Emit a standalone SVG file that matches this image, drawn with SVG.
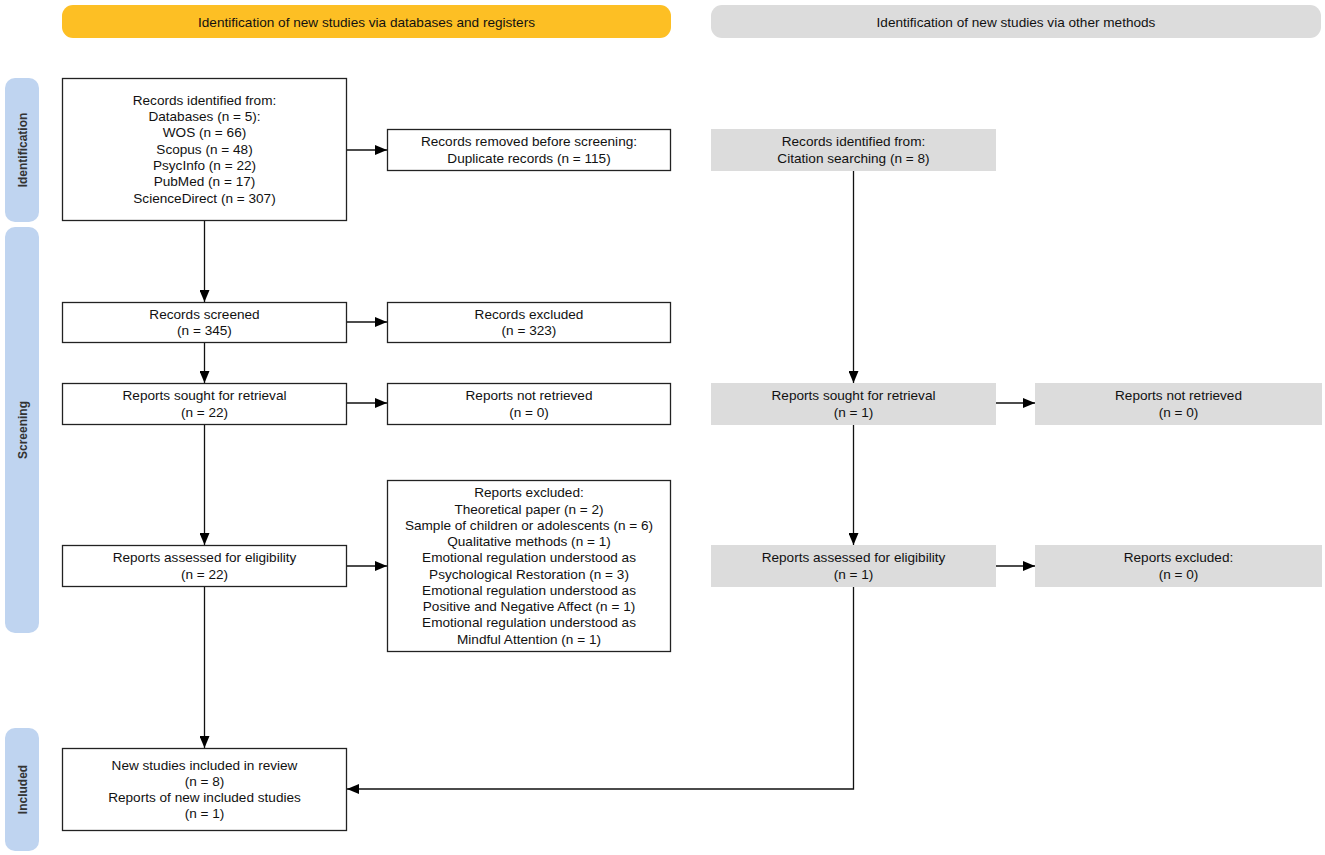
<svg xmlns="http://www.w3.org/2000/svg" width="1325" height="855" viewBox="0 0 1325 855">
<defs>
<marker id="ah" viewBox="0 0 12 10" refX="12" refY="5" markerWidth="12" markerHeight="10" markerUnits="userSpaceOnUse" orient="auto">
<path d="M0,0 L12,5 L0,10 Z" fill="#000"/>
</marker>
<style>
text{font-family:"Liberation Sans",Arial,Helvetica,sans-serif;font-size:13.6px;fill:#111;text-anchor:middle}
.box{fill:#fff;stroke:#222;stroke-width:1.3}
.gbox{fill:#dcdcdc;stroke:none}
.side{fill:#bfd4f0}
.side text{font-weight:bold;font-size:12px;fill:#333}
.conn{fill:none;stroke:#111;stroke-width:1.3}
</style>
</defs>
<rect width="1325" height="855" fill="#fff"/>

<g id="hdr-left"><rect x="62" y="5" width="609" height="33" rx="11" fill="#fdbf24"/><text x="366.5" y="26.5">Identification of new studies via databases and registers</text></g>
<g id="hdr-right"><rect x="711" y="5" width="610" height="33" rx="11" fill="#dcdcdc"/><text x="1016" y="26.5">Identification of new studies via other methods</text></g>

<g id="side-identification" class="side"><rect x="5" y="78" width="34" height="144" rx="10"/><text transform="translate(26.5,150) rotate(-90)">Identification</text></g>
<g id="side-screening" class="side"><rect x="5" y="227" width="34" height="406" rx="10"/><text transform="translate(26.5,430) rotate(-90)">Screening</text></g>
<g id="side-included" class="side"><rect x="5" y="728" width="34" height="123" rx="10"/><text transform="translate(26.5,789.5) rotate(-90)">Included</text></g>

<g id="records-identified"><rect class="box" x="62.5" y="78.5" width="284" height="142"/>
<text x="204.5" y="104.5">Records identified from:</text>
<text x="204.5" y="121">Databases (n = 5):</text>
<text x="204.5" y="137">WOS (n = 66)</text>
<text x="204.5" y="153.5">Scopus (n = 48)</text>
<text x="204.5" y="170">PsycInfo (n = 22)</text>
<text x="204.5" y="186">PubMed (n = 17)</text>
<text x="204.5" y="202.5">ScienceDirect (n = 307)</text></g>

<g id="records-removed"><rect class="box" x="387.5" y="129.5" width="283" height="41"/>
<text x="529" y="146">Records removed before screening:</text>
<text x="529" y="162.5">Duplicate records (n = 115)</text></g>

<g id="citation-identified"><rect class="gbox" x="711" y="129" width="285" height="42"/>
<text x="853.5" y="146">Records identified from:</text>
<text x="853.5" y="162.5">Citation searching (n = 8)</text></g>

<g id="records-screened"><rect class="box" x="62.5" y="302.5" width="284" height="40"/>
<text x="204.5" y="318.5">Records screened</text>
<text x="204.5" y="335">(n = 345)</text></g>

<g id="records-excluded"><rect class="box" x="387.5" y="302.5" width="283" height="40"/>
<text x="529" y="318.5">Records excluded</text>
<text x="529" y="335">(n = 323)</text></g>

<g id="reports-sought"><rect class="box" x="62.5" y="383.5" width="284" height="41"/>
<text x="204.5" y="400">Reports sought for retrieval</text>
<text x="204.5" y="416.5">(n = 22)</text></g>

<g id="reports-not-retrieved"><rect class="box" x="387.5" y="383.5" width="283" height="41"/>
<text x="529" y="400">Reports not retrieved</text>
<text x="529" y="416.5">(n = 0)</text></g>

<g id="reports-sought-other"><rect class="gbox" x="711" y="383" width="285" height="42"/>
<text x="853.5" y="400">Reports sought for retrieval</text>
<text x="853.5" y="416.5">(n = 1)</text></g>

<g id="reports-not-retrieved-other"><rect class="gbox" x="1035" y="383" width="287" height="42"/>
<text x="1178.5" y="400">Reports not retrieved</text>
<text x="1178.5" y="416.5">(n = 0)</text></g>

<g id="reports-assessed"><rect class="box" x="62.5" y="545.5" width="284" height="41"/>
<text x="204.5" y="562">Reports assessed for eligibility</text>
<text x="204.5" y="578.5">(n = 22)</text></g>

<g id="reports-excluded"><rect class="box" x="387.5" y="480.5" width="283" height="171"/>
<text x="529" y="497">Reports excluded:</text>
<text x="529" y="513.5">Theoretical paper (n = 2)</text>
<text x="529" y="529.5">Sample of children or adolescents (n = 6)</text>
<text x="529" y="546">Qualitative methods (n = 1)</text>
<text x="529" y="562">Emotional regulation understood as</text>
<text x="529" y="578.5">Psychological Restoration (n = 3)</text>
<text x="529" y="594.5">Emotional regulation understood as</text>
<text x="529" y="611">Positive and Negative Affect (n = 1)</text>
<text x="529" y="627">Emotional regulation understood as</text>
<text x="529" y="643.5">Mindful Attention (n = 1)</text></g>

<g id="reports-assessed-other"><rect class="gbox" x="711" y="545" width="285" height="42"/>
<text x="853.5" y="562">Reports assessed for eligibility</text>
<text x="853.5" y="578.5">(n = 1)</text></g>

<g id="reports-excluded-other"><rect class="gbox" x="1035" y="545" width="287" height="42"/>
<text x="1178.5" y="562">Reports excluded:</text>
<text x="1178.5" y="578.5">(n = 0)</text></g>

<g id="included"><rect class="box" x="62.5" y="748.5" width="284" height="82"/>
<text x="204.5" y="769.5">New studies included in review</text>
<text x="204.5" y="785.5">(n = 8)</text>
<text x="204.5" y="801.5">Reports of new included studies</text>
<text x="204.5" y="818">(n = 1)</text></g>

<g id="connectors" class="conn" marker-end="url(#ah)">
<path d="M347,150 H387"/>
<path d="M204.5,221 V302"/>
<path d="M347,322 H387"/>
<path d="M204.5,343 V383"/>
<path d="M347,403 H387"/>
<path d="M204.5,425 V545"/>
<path d="M347,566 H387"/>
<path d="M204.5,587 V748"/>
<path d="M853.5,171 V383"/>
<path d="M996,403 H1035"/>
<path d="M853.5,425 V545"/>
<path d="M996,566 H1035"/>
<path d="M853.5,587 V789 H347"/>
</g>
</svg>
